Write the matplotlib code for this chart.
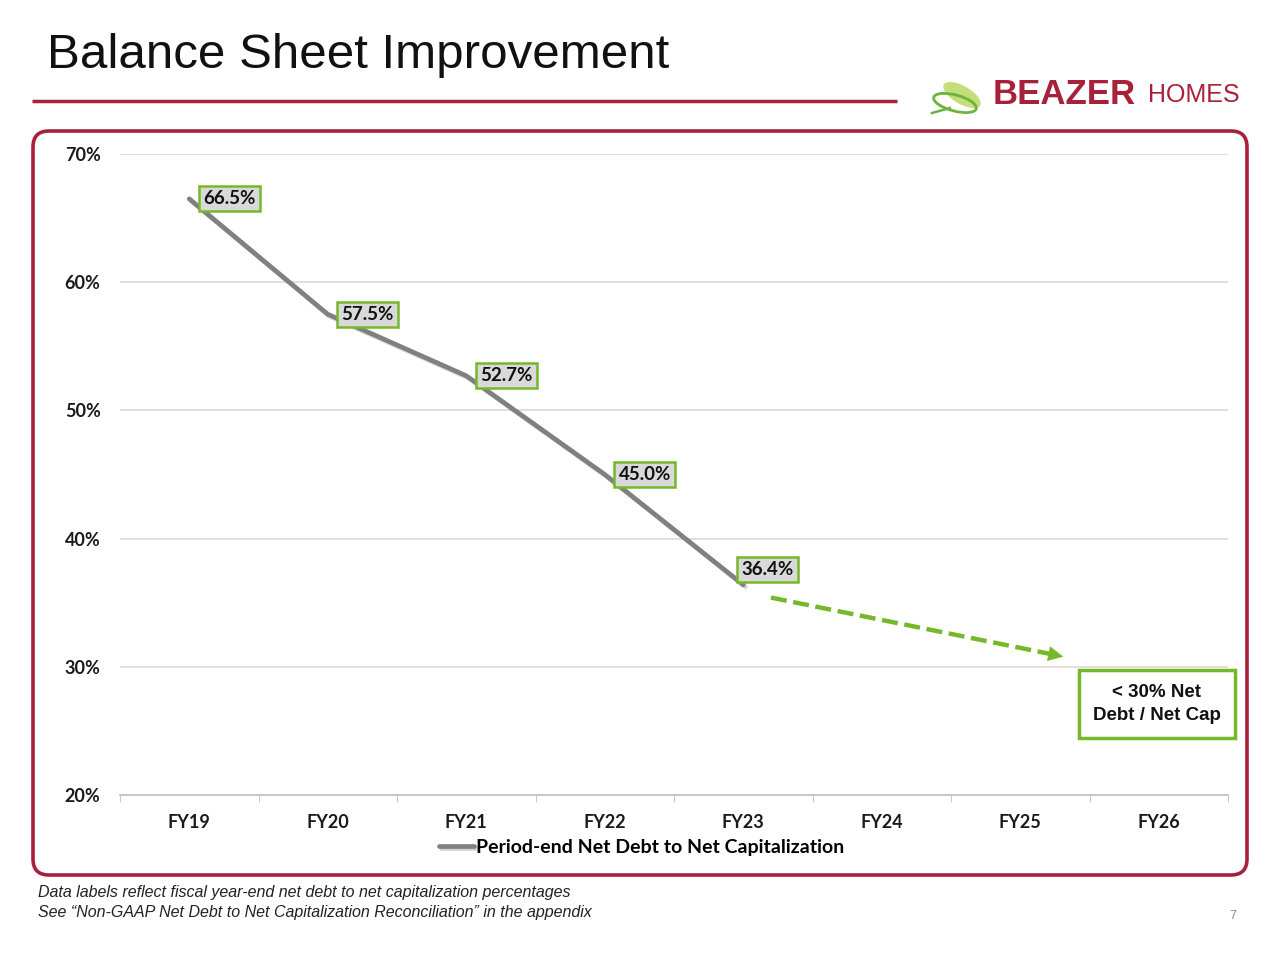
import matplotlib
matplotlib.use('Agg')
from matplotlib import pyplot as plt
from matplotlib.patches import FancyBboxPatch, Ellipse
import matplotlib.patheffects as pe
import numpy as np

# datos
years = ['FY19', 'FY20', 'FY21', 'FY22', 'FY23', 'FY24', 'FY25', 'FY26']
ratio = [66.5, 57.5, 52.7, 45.0, 36.4]
target = 30
y_ticks = [20, 30, 40, 50, 60, 70]

crimson = '#A8213A'
green = '#76B82A'
grey_line = '#808080'

plt.rcParams['font.family'] = ['Liberation Sans', 'DejaVu Sans']
fig = plt.figure(figsize=(12.8, 9.6), dpi=100)

# capa de fondo en pixeles para adornos
bg = fig.add_axes([0, 0, 1, 1], zorder=0)
bg.set_xlim(0, 1280)
bg.set_ylim(960, 0)
bg.axis('off')

bg.text(47, 55, 'Balance Sheet Improvement', fontsize=35.5, va='center', ha='left', color='#111111')
bg.plot([32, 897], [101, 101], color=crimson, lw=2.5, solid_capstyle='butt')

frame = FancyBboxPatch((33, 131), 1214, 744, boxstyle='round,pad=0,rounding_size=16',
                       fill=False, edgecolor=crimson, lw=2.6)
bg.add_patch(frame)

# logo
bg.add_patch(Ellipse((962, 95), 42, 18, angle=30, facecolor='#C5DE7A', edgecolor='none'))
bg.add_patch(Ellipse((955, 103), 44, 16, angle=15, facecolor='none', edgecolor='#6DB33F', lw=2))
bg.plot([932, 950], [113, 108], color='#6DB33F', lw=1.8)
bg.text(993, 94, 'BEAZER', fontsize=25, fontweight='bold', color=crimson, va='center', ha='left')
bg.text(1148, 95, 'HOMES', fontsize=18, color=crimson, va='center', ha='left')

bg.text(38, 893, 'Data labels reflect fiscal year-end net debt to net capitalization percentages',
        fontsize=11.5, style='italic', color='#222222', va='center')
bg.text(38, 913, 'See \u201cNon-GAAP Net Debt to Net Capitalization Reconciliation\u201d in the appendix',
        fontsize=11.5, style='italic', color='#222222', va='center')
bg.text(1236, 916, '7', fontsize=9, color='#8C8C8C', ha='right', va='center')

# grafico
ax = fig.add_axes([120 / 1280, 1 - 795 / 960, 1108 / 1280, 641 / 960], zorder=1)
ax.patch.set_alpha(0)
x = np.arange(len(ratio))
ax.plot(x, ratio, color=grey_line, lw=3.4, solid_capstyle='round',
        label='Period-end Net Debt to Net Capitalization', zorder=3,
        path_effects=[pe.SimpleLineShadow(offset=(1.5, -1.5), shadow_color='#555555', alpha=0.25),
                      pe.Normal()])

offs = [(40, 0), (40, 0), (40, 0), (40, 0), (24, 15)]
for xi, v, (dx, dy) in zip(x, ratio, offs):
    ax.annotate(f'{v:.1f}%', (xi, v), xytext=(dx * 0.72, dy * 0.72), textcoords='offset points',
                ha='center', va='center', fontsize=13.5, fontweight='bold', family='Lato',
                color='#111111', zorder=5,
                bbox=dict(boxstyle='square,pad=0.22', facecolor='#D9D9D9', edgecolor=green, lw=1.8))

# flecha de objetivo
x0, y0 = 4.2, 35.4
x1, y1 = 6.33, target + 0.75
ax.plot([x0, x1 - 0.08], [y0, y1 + 0.18], color=green, lw=3.2, dashes=(3.6, 1.5), zorder=3)
ax.annotate('', xy=(x1, y1), xytext=(x1 - 0.1, y1 + 0.22),
            arrowprops=dict(arrowstyle='-|>,head_length=1.0,head_width=0.5', color=green, lw=0.5),
            zorder=4)
ax.text(6.985, 27.1, '< 30% Net\nDebt / Net Cap', ha='center', va='center', fontsize=13.5,
        fontweight='bold', color='#111111', linespacing=1.45, clip_on=False, zorder=5,
        bbox=dict(boxstyle='square,pad=0.75', facecolor='white', edgecolor=green, lw=2.5))

ax.set_xlim(-0.5, len(years) - 0.5)
ax.set_ylim(20, 70)
ax.set_xticks(range(len(years)))
ax.set_xticklabels(years)
ax.set_xticks(np.arange(-0.5, len(years)), minor=True)
ax.set_yticks(y_ticks)
ax.set_yticklabels([f'{t}%' for t in y_ticks])
ax.tick_params(axis='x', which='major', length=0, pad=14)
ax.tick_params(axis='x', which='minor', length=5, color='#BFBFBF')
ax.tick_params(axis='y', length=0, pad=14)
for lab in ax.get_xticklabels() + ax.get_yticklabels():
    lab.set_fontfamily('Lato')
    lab.set_fontweight('bold')
    lab.set_fontsize(13)
    lab.set_color('#1A1A1A')
ax.grid(axis='y', color='#D9D9D9', lw=1.2)
ax.set_axisbelow(True)
for s in ['top', 'right', 'left']:
    ax.spines[s].set_visible(False)
ax.spines['bottom'].set_color('#BFBFBF')
ax.spines['bottom'].set_linewidth(1.2)

fig.legend(loc='center', bbox_to_anchor=(642 / 1280, 1 - 847 / 960), frameon=False,
           handlelength=1.8, handletextpad=0.1,
           prop=dict(family='Lato', weight='bold', size=14))

fig.savefig('out.png', dpi=100, facecolor='white')
